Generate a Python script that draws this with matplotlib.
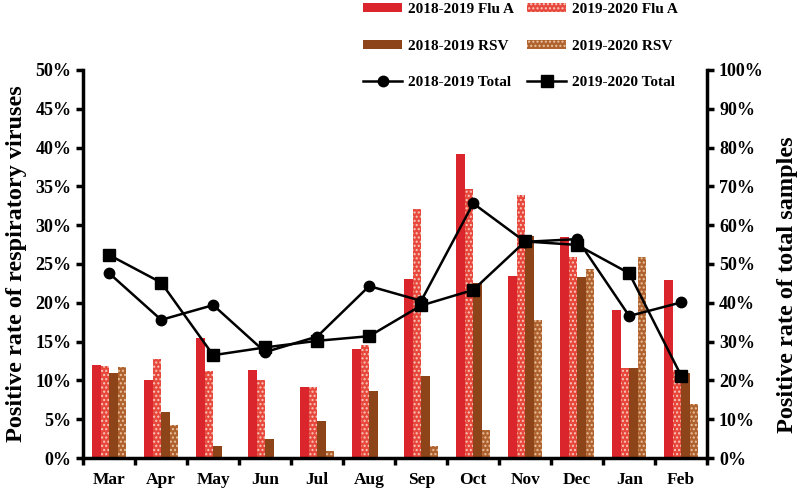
import matplotlib
matplotlib.use("Agg")
import matplotlib.pyplot as plt
import numpy as np

months = ["Mar", "Apr", "May", "Jun", "Jul", "Aug", "Sep", "Oct", "Nov", "Dec", "Jan", "Feb"]
flu_a_1819 = [12.0, 10.0, 15.5, 11.4, 9.2, 14.0, 23.0, 39.2, 23.5, 28.5, 19.1, 22.9]
flu_a_1920 = [11.8, 12.8, 11.2, 10.1, 9.1, 14.6, 32.1, 34.7, 33.9, 25.9, 11.6, 11.3]
rsv_1819 = [11.0, 5.9, 1.5, 2.5, 4.8, 8.6, 10.6, 22.6, 28.6, 23.3, 11.6, 10.9]
rsv_1920 = [11.7, 4.3, 0.0, 0.0, 0.9, 0.0, 1.5, 3.6, 17.8, 24.4, 25.9, 7.0]
total_1819 = [47.6, 35.6, 39.4, 27.3, 31.3, 44.3, 40.5, 65.6, 55.7, 56.4, 36.6, 40.1]
total_1920 = [52.3, 45.2, 26.5, 28.5, 30.2, 31.4, 39.3, 43.3, 55.8, 54.9, 47.6, 21.2]
left_ticks = [0, 5, 10, 15, 20, 25, 30, 35, 40, 45, 50]
right_ticks = [0, 10, 20, 30, 40, 50, 60, 70, 80, 90, 100]

plt.rcParams['font.family'] = ['Liberation Serif', 'DejaVu Serif']
plt.rcParams['font.weight'] = 'bold'
plt.rcParams['hatch.linewidth'] = 1.0

RED = '#d9252b'
RED2 = '#e8483c'
BROWN = '#8e4419'
BROWN2 = '#b0622e'

fig = plt.figure(figsize=(8, 4.92), dpi=100)
ax = fig.add_axes([0.104, 0.069, 0.78, 0.789])
x = np.arange(len(months))
w = 0.165

b1 = ax.bar(x - 1.5 * w, flu_a_1819, w, color=RED, linewidth=0, label='2018-2019 Flu A')
b2 = ax.bar(x - 0.5 * w, flu_a_1920, w, color=RED2, edgecolor='#f7c9bd', hatch='....', linewidth=0, label='2019-2020 Flu A')
b3 = ax.bar(x + 0.5 * w, rsv_1819, w, color=BROWN, linewidth=0, label='2018-2019 RSV')
b4 = ax.bar(x + 1.5 * w, rsv_1920, w, color=BROWN2, edgecolor='#e9c3a0', hatch='....', linewidth=0, label='2019-2020 RSV')

ax.set_xlim(-0.5, len(months) - 0.5)
ax.set_ylim(0, 50)
ax.set_yticks(left_ticks)
ax.set_yticklabels([f"{t}%" for t in left_ticks], fontsize=13, fontweight='bold')
ax.set_xticks(x)
ax.set_xticklabels(months, fontsize=12.5, fontweight='bold')
ax.set_xticks(np.arange(len(months) + 1) - 0.5, minor=True)
ax.tick_params(axis='x', which='major', length=0, pad=10)
ax.tick_params(axis='x', which='minor', length=5, width=2.5, direction='out')
ax.tick_params(axis='y', length=5, width=2.5, direction='out')
ax.set_ylabel('Positive rate of respiratory viruses', fontsize=17.5, fontweight='bold', labelpad=6)
for s in ['top', 'right']:
    ax.spines[s].set_visible(False)
for s in ['left', 'bottom']:
    ax.spines[s].set_linewidth(2.5)

ax2 = ax.twinx()
l1, = ax2.plot(x, total_1819, color='black', lw=1.8, marker='o', markersize=7.5, label='2018-2019 Total')
l2, = ax2.plot(x, total_1920, color='black', lw=1.8, marker='s', markersize=8, label='2019-2020 Total')
ax2.set_ylim(0, 100)
ax2.set_yticks(right_ticks)
ax2.set_yticklabels([f"{t}%" for t in right_ticks], fontsize=13, fontweight='bold')
ax2.tick_params(axis='y', length=5, width=2.5, direction='out')
ax2.set_ylabel('Positive rate of total samples', fontsize=17.5, fontweight='bold')
ax2.yaxis.set_label_coords(1.112, 0.446)
for s in ['top', 'left', 'bottom']:
    ax2.spines[s].set_visible(False)
ax2.spines['right'].set_linewidth(2.5)

handles = [b1, b3, l1, b2, b4, l2]
labels = [h.get_label() for h in handles]
fig.legend(handles, labels, ncol=2, loc='upper left', bbox_to_anchor=(0.437, 1.022),
           frameon=False, prop={'family': 'Liberation Serif', 'weight': 'bold', 'size': 11},
           handlelength=2.55, handleheight=0.55, handletextpad=0.4, columnspacing=0.85,
           labelspacing=1.55)

fig.savefig('out.png', dpi=100)
